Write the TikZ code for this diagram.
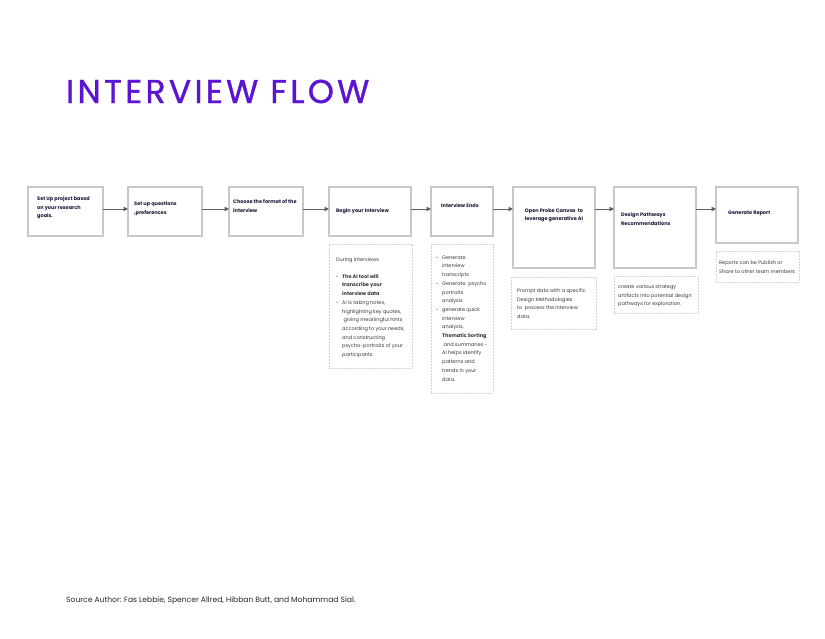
\documentclass[tikz,border=0pt]{standalone}
\usepackage{fontspec}
\setmainfont{Poppins}
\usetikzlibrary{arrows.meta}
\definecolor{flowpurple}{RGB}{91,20,210}
\definecolor{boxgray}{RGB}{200,200,200}
\definecolor{notegray}{RGB}{212,212,212}
\definecolor{linegray}{RGB}{95,95,100}
\definecolor{stepnavy}{RGB}{20,25,55}
\definecolor{notefg}{RGB}{55,55,60}
\definecolor{bulletpink}{RGB}{200,60,120}
\newfontfamily\titlefont[LetterSpace=10, FakeBold=1.2]{Poppins}
\newcommand{\bul}{\makebox[6pt][l]{\textcolor{bulletpink}{\textbullet}}}
\newcommand{\ind}{\hspace*{6pt}}

\begin{document}
\begin{tikzpicture}[x=1pt, y=-1pt,
    stepbox/.style={draw=boxgray, line width=1.1pt, inner sep=0pt, outer sep=0pt, anchor=north west},
    notebox/.style={draw=notegray, line width=0.8pt, dash pattern=on 1.6pt off 1.4pt, inner sep=0pt, outer sep=0pt, anchor=north west},
    steptext/.style={font=\fontsize{5}{8.5}\selectfont\bfseries, text=stepnavy, align=left, inner sep=0pt, anchor=north west},
    notetxt/.style={font=\fontsize{5}{8.7}\selectfont, text=notefg, align=left, inner sep=0pt, anchor=north west},
    flow/.style={draw=linegray, line width=0.9pt, -{Triangle[length=4.5pt, width=4.5pt]}}]
    \useasboundingbox (0,0) rectangle (825,638);

    % Title
    \node[font=\titlefont\fontsize{33}{33}\selectfont, text=flowpurple, anchor=base west, inner sep=0pt] (title) at (66,103) {INTERVIEW FLOW};

    % Steps
    \node[stepbox, minimum width=75, minimum height=49] (b1) at (28,187) {};
    \node[stepbox, minimum width=74, minimum height=49] (b2) at (128,187) {};
    \node[stepbox, minimum width=74, minimum height=49] (b3) at (229,187) {};
    \node[stepbox, minimum width=82, minimum height=49] (b4) at (329,187) {};
    \node[stepbox, minimum width=62, minimum height=49] (b5) at (431,187) {};
    \node[stepbox, minimum width=82, minimum height=81] (b6) at (513,187) {};
    \node[stepbox, minimum width=82, minimum height=81] (b7) at (614,187) {};
    \node[stepbox, minimum width=82, minimum height=56] (b8) at (716,187) {};

    \node[steptext] (t1) at (37,196.5) {Set Up project based\\on your research\\goals.};
    \node[steptext] (t2) at (134,201.5) {Set up questions\\,preferences};
    \node[steptext] (t3) at (233,199.5) {Choose the format of the\\interview};
    \node[steptext] (t4) at (336,208.5) {Begin your Interview};
    \node[steptext] (t5) at (441,203.5) {Interview Ends};
    \node[steptext, anchor=north, align=center] (t6) at (554,208.5) {Open Probe Canvas\ \ to\\leverage generative AI};
    \node[steptext] (t7) at (621,212.5) {Design Pathways\\Recommendations};
    \node[steptext] (t8) at (728,210.5) {Generate Report};

    % Arrows
    \coordinate (row) at (0,209);
    \foreach \a/\b in {b1/b2, b2/b3, b3/b4, b4/b5, b5/b6, b6/b7, b7/b8}
        \draw[flow] (\a.east |- row) -- (\b.west |- row);

    % Notes
    \node[notebox, minimum width=83, minimum height=124] (n4) at (329,244) {};
    \node[notebox, minimum width=62, minimum height=149] (n5) at (431,244) {};
    \node[notebox, minimum width=85, minimum height=52] (n6) at (511,277) {};
    \node[notebox, minimum width=84, minimum height=37] (n7) at (614,276) {};
    \node[notebox, minimum width=83, minimum height=31] (n8) at (716,251) {};

    \node[notetxt] (m4) at (336,257.5) {During Interviews\\[8pt]
        \bul\textbf{The AI tool will}\\
        \ind\textbf{transcribe your}\\
        \ind\textbf{interview data}\\
        \bul AI is taking notes,\\
        \ind highlighting key quotes,\\
        \ind\hspace*{1.5pt}giving meaningful hints\\
        \ind according to your needs,\\
        \ind and constructing\\
        \ind psycho-portraits of your\\
        \ind participants.};
    \node[notetxt] (m5) at (436,255.5) {\bul Generate\\
        \ind interview\\
        \ind transcripts\\
        \bul Generate\ \ psycho\\
        \ind portraits\\
        \ind analysis\\
        \bul generate quick\\
        \ind interview\\
        \ind analysis,\\
        \ind\textbf{Thematic Sorting}\\
        \ind\hspace*{1.5pt}and summaries -\\
        \ind AI helps identify\\
        \ind patterns and\\
        \ind trends in your\\
        \ind data.};
    \node[notetxt] (m6) at (517,288.5) {Prompt data with a specific\\Design Methodologies\\to\ \ process the interview\\data.};
    \node[notetxt] (m7) at (618,284.5) {create various strategy\\artifacts into potential design\\pathways for exploration.};
    \node[notetxt] (m8) at (719,260.5) {Reports can be Publish or\\Share to other team members};

    % Source
    \node[font=\fontsize{7.6}{9}\selectfont, text=black!85, anchor=base west, inner sep=0pt] (src) at (66,602.5) {Source Author: Fas Lebbie, Spencer Allred, Hibban Butt, and Mohammad Sial.};
\end{tikzpicture}
\end{document}
